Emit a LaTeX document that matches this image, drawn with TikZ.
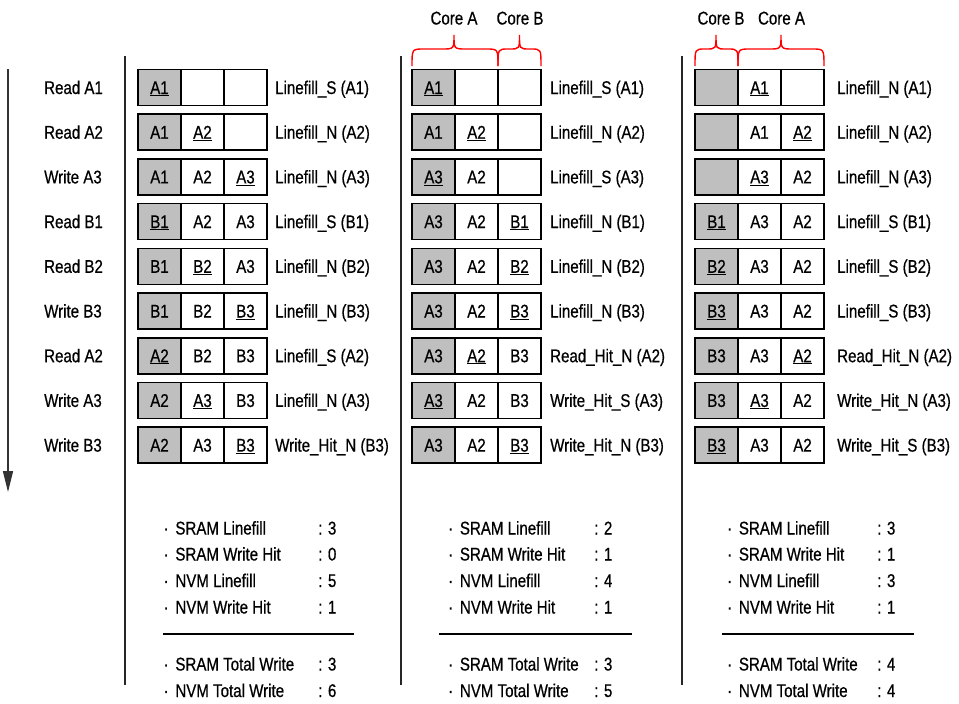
\documentclass[tikz,border=0pt]{standalone}
\usepackage{fontspec}
\setmainfont[FakeStretch=0.82,FakeBold=0.6]{Liberation Sans}
\usetikzlibrary{arrows.meta}

\tikzset{
  txt/.style={inner sep=0pt, text height=13pt, text depth=0pt, font=\fontsize{18.4}{20}\selectfont},
  cell/.style={txt, draw, line width=1.6pt, minimum width=43pt, minimum height=36pt, anchor=center},
  gcell/.style={cell, fill=black!25},
  lbl/.style={txt, anchor=west},
  brc/.style={draw=red, line width=1.4pt},
  divider/.style={line width=1.4pt, black!85},
  sep/.style={line width=1.6pt},
}

% #1 box left x, #2 centre y, #3 name, #4 #5 #6 cells, #7 label, #8 label x
\newcommand\cacherow[8]{%
  \node[gcell] (#3a) at (#1+21.5,#2) {#4};
  \node[cell]  (#3b) at (#1+64.5,#2) {#5};
  \node[cell]  (#3c) at (#1+107.5,#2) {#6};
  \node[lbl]   (#3l) at (#8,#2) {#7};
}
% x1, xm, x2, r
\newcommand\corebrace[4]{%
  \path[brc] (#1,66) .. controls (#1,49) .. (#1+#4,49) -- (#2-#4,49)
    .. controls (#2,49) .. (#2,35) .. controls (#2,49) .. (#2+#4,49)
    -- (#3-#4,49) .. controls (#3,49) .. (#3,66);
}
% x text, x value, y, name, text, value
\newcommand\statline[6]{%
  \node[lbl] (#4t) at (#1,#3) {·\hspace{2.5pt} #5};
  \node[lbl] (#4v) at (#2,#3) {: #6};
}

\begin{document}
\begin{tikzpicture}[x=1pt,y=-1pt]
\useasboundingbox (0,0) rectangle (959,704);

% time arrow
\coordinate (arrS) at (8,69);
\coordinate (arrE) at (8,492);
\draw[line width=1.4pt, black!80, -{Triangle[length=21pt,width=10pt]}] (arrS) -- (arrE);

% dividers
\coordinate (d1t) at (125,56); \coordinate (d1b) at (125,685);
\coordinate (d2t) at (401,56); \coordinate (d2b) at (401,685);
\coordinate (d3t) at (682,56); \coordinate (d3b) at (682,685);
\draw[divider] (d1t) -- (d1b);
\draw[divider] (d2t) -- (d2b);
\draw[divider] (d3t) -- (d3b);

% operations
\node[lbl] (op1) at (44,87.5)  {Read A1};
\node[lbl] (op2) at (44,132.2) {Read A2};
\node[lbl] (op3) at (44,176.9) {Write A3};
\node[lbl] (op4) at (44,221.6) {Read B1};
\node[lbl] (op5) at (44,266.3) {Read B2};
\node[lbl] (op6) at (44,311.0) {Write B3};
\node[lbl] (op7) at (44,355.7) {Read A2};
\node[lbl] (op8) at (44,400.4) {Write A3};
\node[lbl] (op9) at (44,445.1) {Write B3};

% panel 1
\cacherow{138}{87.5} {pa1}{\underline{A1}}{}{}{Linefill\_S (A1)}{275}
\cacherow{138}{132.2}{pa2}{A1}{\underline{A2}}{}{Linefill\_N (A2)}{275}
\cacherow{138}{176.9}{pa3}{A1}{A2}{\underline{A3}}{Linefill\_N (A3)}{275}
\cacherow{138}{221.6}{pa4}{\underline{B1}}{A2}{A3}{Linefill\_S (B1)}{275}
\cacherow{138}{266.3}{pa5}{B1}{\underline{B2}}{A3}{Linefill\_N (B2)}{275}
\cacherow{138}{311.0}{pa6}{B1}{B2}{\underline{B3}}{Linefill\_N (B3)}{275}
\cacherow{138}{355.7}{pa7}{\underline{A2}}{B2}{B3}{Linefill\_S (A2)}{275}
\cacherow{138}{400.4}{pa8}{A2}{\underline{A3}}{B3}{Linefill\_N (A3)}{275}
\cacherow{138}{445.1}{pa9}{A2}{A3}{\underline{B3}}{Write\_Hit\_N (B3)}{275}

% panel 2
\cacherow{412}{87.5} {pb1}{\underline{A1}}{}{}{Linefill\_S (A1)}{550}
\cacherow{412}{132.2}{pb2}{A1}{\underline{A2}}{}{Linefill\_N (A2)}{550}
\cacherow{412}{176.9}{pb3}{\underline{A3}}{A2}{}{Linefill\_S (A3)}{550}
\cacherow{412}{221.6}{pb4}{A3}{A2}{\underline{B1}}{Linefill\_N (B1)}{550}
\cacherow{412}{266.3}{pb5}{A3}{A2}{\underline{B2}}{Linefill\_N (B2)}{550}
\cacherow{412}{311.0}{pb6}{A3}{A2}{\underline{B3}}{Linefill\_N (B3)}{550}
\cacherow{412}{355.7}{pb7}{A3}{\underline{A2}}{B3}{Read\_Hit\_N (A2)}{550}
\cacherow{412}{400.4}{pb8}{\underline{A3}}{A2}{B3}{Write\_Hit\_S (A3)}{550}
\cacherow{412}{445.1}{pb9}{A3}{A2}{\underline{B3}}{Write\_Hit\_N (B3)}{550}

% panel 3
\cacherow{695}{87.5} {pc1}{}{\underline{A1}}{}{Linefill\_N (A1)}{837}
\cacherow{695}{132.2}{pc2}{}{A1}{\underline{A2}}{Linefill\_N (A2)}{837}
\cacherow{695}{176.9}{pc3}{}{\underline{A3}}{A2}{Linefill\_N (A3)}{837}
\cacherow{695}{221.6}{pc4}{\underline{B1}}{A3}{A2}{Linefill\_S (B1)}{837}
\cacherow{695}{266.3}{pc5}{\underline{B2}}{A3}{A2}{Linefill\_S (B2)}{837}
\cacherow{695}{311.0}{pc6}{\underline{B3}}{A3}{A2}{Linefill\_S (B3)}{837}
\cacherow{695}{355.7}{pc7}{B3}{A3}{\underline{A2}}{Read\_Hit\_N (A2)}{837}
\cacherow{695}{400.4}{pc8}{B3}{\underline{A3}}{A2}{Write\_Hit\_N (A3)}{837}
\cacherow{695}{445.1}{pc9}{\underline{B3}}{A3}{A2}{Write\_Hit\_S (B3)}{837}

% core braces and labels
\corebrace{412}{454}{498}{12}
\corebrace{498}{519.5}{541}{10}
\corebrace{695}{716}{738}{10}
\corebrace{738}{781}{824}{12}
\node[txt] (cA2) at (454,18) {Core A};
\node[txt] (cB2) at (520,18) {Core B};
\node[txt] (cB3) at (721,18) {Core B};
\node[txt] (cA3) at (781.5,18) {Core A};

% statistics panel 1
\statline{163.5}{318}{528}{s1a}{SRAM Linefill}{3}
\statline{163.5}{318}{554}{s1b}{SRAM Write Hit}{0}
\statline{163.5}{318}{580.5}{s1c}{NVM Linefill}{5}
\statline{163.5}{318}{607}{s1d}{NVM Write Hit}{1}
\coordinate (l1a) at (163,634); \coordinate (l1b) at (354,634);
\draw[sep] (l1a) -- (l1b);
\statline{163.5}{318}{664}{s1e}{SRAM Total Write}{3}
\statline{163.5}{318}{690.5}{s1f}{NVM Total Write}{6}

% statistics panel 2
\statline{448}{594}{528}{s2a}{SRAM Linefill}{2}
\statline{448}{594}{554}{s2b}{SRAM Write Hit}{1}
\statline{448}{594}{580.5}{s2c}{NVM Linefill}{4}
\statline{448}{594}{607}{s2d}{NVM Write Hit}{1}
\coordinate (l2a) at (439,634); \coordinate (l2b) at (632,634);
\draw[sep] (l2a) -- (l2b);
\statline{448}{594}{664}{s2e}{SRAM Total Write}{3}
\statline{448}{594}{690.5}{s2f}{NVM Total Write}{5}

% statistics panel 3
\statline{727}{877}{528}{s3a}{SRAM Linefill}{3}
\statline{727}{877}{554}{s3b}{SRAM Write Hit}{1}
\statline{727}{877}{580.5}{s3c}{NVM Linefill}{3}
\statline{727}{877}{607}{s3d}{NVM Write Hit}{1}
\coordinate (l3a) at (722,634); \coordinate (l3b) at (914,634);
\draw[sep] (l3a) -- (l3b);
\statline{727}{877}{664}{s3e}{SRAM Total Write}{4}
\statline{727}{877}{690.5}{s3f}{NVM Total Write}{4}
\end{tikzpicture}
\end{document}
